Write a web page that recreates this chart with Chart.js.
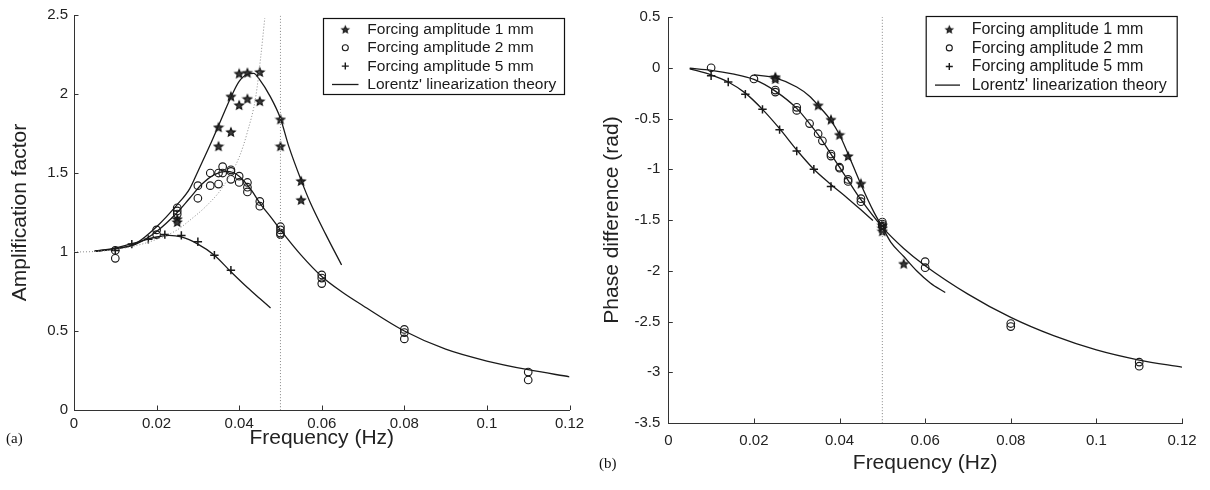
<!DOCTYPE html>
<html><head><meta charset="utf-8">
<script src="https://cdn.jsdelivr.net/npm/chart.js@4/dist/chart.umd.min.js"></script>
<style>
html,body{margin:0;padding:0;background:#fff;}
#wrap{position:relative;width:1210px;height:490px;overflow:hidden;background:#fff;}
canvas{position:absolute;top:0;}
#ca{left:0;} #cb{left:600px;}
.lab{position:absolute;font-family:'Liberation Serif','Times New Roman',serif;font-size:15px;color:#111;line-height:17px;}
</style></head><body>
<div id="wrap">
<canvas id="ca" width="600" height="490"></canvas>
<canvas id="cb" width="610" height="490"></canvas>
<div class="lab" style="left:6px;top:430px">(a)</div>
<div class="lab" style="left:599px;top:455px">(b)</div>
</div>
<script>
// ---------- tick values ----------
const freqTicks = [0, 0.02, 0.04, 0.06, 0.08, 0.1, 0.12];
const ampTicks = [0, 0.5, 1, 1.5, 2, 2.5];
const phaseTicks = [-3.5, -3, -2.5, -2, -1.5, -1, -0.5, 0, 0.5];
const legendLabels = ['Forcing amplitude 1 mm', 'Forcing amplitude 2 mm', 'Forcing amplitude 5 mm', "Lorentz' linearization theory"];

// ---------- (a) amplification: measurements ----------
const ampStarF = [0.025, 0.025, 0.035, 0.035, 0.038, 0.038, 0.040, 0.040, 0.042, 0.042, 0.045, 0.045, 0.050, 0.050, 0.055, 0.055];
const ampStarA = [1.21, 1.19, 1.79, 1.67, 1.985, 1.76, 2.13, 1.93, 2.135, 1.97, 2.14, 1.955, 1.84, 1.67, 1.45, 1.33];
const ampCircF = [0.01, 0.01, 0.02, 0.02, 0.025, 0.025, 0.025, 0.03, 0.03, 0.033, 0.033, 0.035, 0.035, 0.036, 0.036, 0.038, 0.038, 0.038, 0.040, 0.040, 0.042, 0.042, 0.042, 0.045, 0.045, 0.05, 0.05, 0.05, 0.05, 0.06, 0.06, 0.06, 0.08, 0.08, 0.08, 0.11, 0.11];
const ampCircA = [1.01, 0.96, 1.14, 1.11, 1.28, 1.26, 1.24, 1.42, 1.34, 1.50, 1.42, 1.50, 1.43, 1.54, 1.50, 1.52, 1.51, 1.46, 1.48, 1.44, 1.44, 1.41, 1.38, 1.32, 1.29, 1.16, 1.14, 1.12, 1.11, 0.855, 0.835, 0.80, 0.51, 0.49, 0.45, 0.24, 0.19];
const ampPlusF = [0.01, 0.014, 0.018, 0.022, 0.026, 0.030, 0.034, 0.038];
const ampPlusA = [1.01, 1.05, 1.08, 1.11, 1.105, 1.065, 0.98, 0.885];

// ---------- (a) amplification: theory curves ----------
const ampTh1F = [0.005, 0.010, 0.015, 0.020, 0.025, 0.028, 0.030, 0.033, 0.035, 0.038, 0.040, 0.042, 0.0435, 0.045, 0.0474, 0.050, 0.052, 0.055, 0.0571, 0.061, 0.0648];
const ampTh1A = [1.005, 1.02, 1.055, 1.16, 1.30, 1.40, 1.51, 1.68, 1.80, 1.98, 2.08, 2.125, 2.13, 2.09, 1.99, 1.845, 1.67, 1.455, 1.32, 1.11, 0.918];
const ampTh2F = [0.005, 0.010, 0.015, 0.020, 0.025, 0.028, 0.031, 0.034, 0.037, 0.040, 0.043, 0.045, 0.048, 0.050, 0.055, 0.060, 0.065, 0.070, 0.080, 0.090, 0.100, 0.110, 0.120];
const ampTh2A = [1.005, 1.02, 1.05, 1.13, 1.25, 1.34, 1.43, 1.49, 1.51, 1.48, 1.39, 1.31, 1.21, 1.14, 0.98, 0.845, 0.745, 0.66, 0.50, 0.385, 0.31, 0.255, 0.21];
const ampTh5F = [0.005, 0.010, 0.015, 0.020, 0.023, 0.026, 0.030, 0.034, 0.038, 0.042, 0.045, 0.0476];
const ampTh5A = [1.005, 1.025, 1.06, 1.095, 1.105, 1.095, 1.05, 0.98, 0.875, 0.775, 0.705, 0.646];
const ampUndampedF = [0, 0.005, 0.010, 0.015, 0.020, 0.025, 0.028, 0.032, 0.036, 0.040, 0.042, 0.044, 0.0452, 0.0462];
const ampUndampedA = [1.0, 1.003, 1.015, 1.04, 1.08, 1.14, 1.20, 1.29, 1.41, 1.60, 1.76, 1.98, 2.23, 2.48];
const ampResF = [0.05, 0.05];
const ampResA = [0, 2.5];

// ---------- (b) phase: measurements ----------
const phStarF = [0.025, 0.025, 0.035, 0.038, 0.040, 0.042, 0.045, 0.050, 0.050, 0.050, 0.055];
const phStarP = [-0.09, -0.11, -0.37, -0.51, -0.66, -0.87, -1.14, -1.55, -1.58, -1.61, -1.93];
const phCircF = [0.01, 0.02, 0.025, 0.025, 0.03, 0.03, 0.033, 0.035, 0.036, 0.038, 0.038, 0.040, 0.040, 0.042, 0.042, 0.045, 0.045, 0.05, 0.05, 0.05, 0.06, 0.06, 0.08, 0.08, 0.11, 0.11];
const phCircP = [0.0, -0.11, -0.22, -0.24, -0.39, -0.42, -0.55, -0.65, -0.72, -0.85, -0.87, -0.98, -0.99, -1.10, -1.12, -1.29, -1.32, -1.52, -1.54, -1.56, -1.91, -1.97, -2.52, -2.55, -2.90, -2.94];
const phPlusF = [0.01, 0.014, 0.018, 0.022, 0.026, 0.030, 0.034, 0.038, 0.05];
const phPlusP = [-0.08, -0.14, -0.26, -0.41, -0.61, -0.82, -1.0, -1.17, -1.55];

// ---------- (b) phase: theory curves ----------
const phTh1F = [0.020, 0.025, 0.030, 0.033, 0.035, 0.038, 0.040, 0.042, 0.045, 0.048, 0.050, 0.052, 0.055, 0.058, 0.0612, 0.0647];
const phTh1P = [-0.07, -0.10, -0.19, -0.28, -0.37, -0.52, -0.66, -0.85, -1.15, -1.42, -1.57, -1.72, -1.86, -2.0, -2.12, -2.215];
const phTh2F = [0.005, 0.010, 0.015, 0.020, 0.025, 0.030, 0.033, 0.035, 0.038, 0.040, 0.042, 0.045, 0.050, 0.055, 0.060, 0.070, 0.080, 0.090, 0.100, 0.110, 0.120];
const phTh2P = [-0.005, -0.025, -0.06, -0.115, -0.23, -0.40, -0.55, -0.66, -0.85, -0.98, -1.11, -1.30, -1.57, -1.78, -1.95, -2.23, -2.46, -2.64, -2.78, -2.88, -2.95];
const phTh5F = [0.005, 0.010, 0.014, 0.018, 0.022, 0.026, 0.030, 0.034, 0.038, 0.042, 0.045, 0.0478];
const phTh5P = [-0.01, -0.07, -0.14, -0.25, -0.41, -0.60, -0.81, -1.0, -1.15, -1.29, -1.40, -1.505];
const phResF = [0.05, 0.05];
const phResP = [-3.5, 0.5];

// ---------- helpers ----------
const FONT = "'Liberation Sans', Arial, Helvetica, sans-serif";
const INK = '#1a1a1a';
const pairs = (xs, ys) => xs.map((x, i) => ({ x: x, y: ys[i] }));
const fmt = v => String(Math.round(v * 100) / 100);

function makeStar(r) {
  const s = Math.ceil(r * 2 + 3);
  const c = document.createElement('canvas');
  c.width = s; c.height = s;
  const g = c.getContext('2d');
  g.translate(s / 2, s / 2 + 0.5);
  g.beginPath();
  for (let i = 0; i < 10; i++) {
    const rr = i % 2 === 0 ? r : r * 0.45;
    const a = -Math.PI / 2 + i * Math.PI / 5;
    g.lineTo(rr * Math.cos(a), rr * Math.sin(a));
  }
  g.closePath();
  g.fillStyle = '#3a3a3a'; g.fill();
  g.lineWidth = 1.1; g.strokeStyle = '#111'; g.stroke();
  return c;
}
const starImg = makeStar(4.5);
const starSmall = makeStar(3.6);

function markers(xs, ys, kind) {
  const d = { data: pairs(xs, ys), showLine: false, borderColor: INK, backgroundColor: 'rgba(0,0,0,0)' };
  if (kind === 'star') { d.pointStyle = starImg; d.pointRadius = 5; }
  if (kind === 'circle') { d.pointStyle = 'circle'; d.pointRadius = 3.8; d.borderWidth = 1.15; }
  if (kind === 'plus') { d.pointStyle = 'cross'; d.pointRadius = 4.2; d.borderWidth = 1.5; }
  d.pointHoverRadius = d.pointRadius;
  return d;
}
function curve(xs, ys, dotted) {
  return {
    data: pairs(xs, ys), showLine: true, pointRadius: 0, pointHoverRadius: 0,
    borderColor: dotted ? '#8a8a8a' : INK, borderWidth: dotted ? 1 : 1.3,
    borderDash: dotted ? [1, 2] : [], cubicInterpolationMode: 'monotone', fill: false
  };
}

const innerTicks = {
  id: 'innerTicks',
  afterDraw(chart) {
    const { ctx, chartArea: a, scales: { x, y } } = chart;
    ctx.save(); ctx.strokeStyle = '#333'; ctx.lineWidth = 1; ctx.beginPath();
    x.ticks.forEach(t => { const px = Math.round(x.getPixelForValue(t.value)) + 0.5; ctx.moveTo(px, a.bottom); ctx.lineTo(px, a.bottom - 4.5); });
    y.ticks.forEach(t => { const py = Math.round(y.getPixelForValue(t.value)) + 0.5; ctx.moveTo(a.left, py); ctx.lineTo(a.left + 4.5, py); });
    ctx.stroke(); ctx.restore();
  }
};
const boxLegend = {
  id: 'boxLegend',
  afterDraw(chart, args, o) {
    const ctx = chart.ctx; ctx.save();
    ctx.fillStyle = '#fff'; ctx.fillRect(o.x, o.y, o.w, o.h);
    ctx.strokeStyle = '#111'; ctx.lineWidth = 1.2; ctx.strokeRect(o.x + 0.5, o.y + 0.5, o.w, o.h);
    ctx.font = o.size + 'px ' + FONT; ctx.fillStyle = INK; ctx.textBaseline = 'middle'; ctx.textAlign = 'left';
    legendLabels.forEach((t, i) => {
      const y = o.y + o.row0 + i * o.dy;
      ctx.strokeStyle = INK;
      if (i === 0) ctx.drawImage(starSmall, o.symX - starSmall.width / 2, y - starSmall.height / 2);
      if (i === 1) { ctx.lineWidth = 1.1; ctx.beginPath(); ctx.arc(o.symX, y, 3, 0, Math.PI * 2); ctx.stroke(); }
      if (i === 2) { ctx.lineWidth = 1.4; ctx.beginPath(); ctx.moveTo(o.symX - 3.5, y); ctx.lineTo(o.symX + 3.5, y); ctx.moveTo(o.symX, y - 3.5); ctx.lineTo(o.symX, y + 3.5); ctx.stroke(); }
      if (i === 3) { ctx.lineWidth = 1.3; ctx.beginPath(); ctx.moveTo(o.lineX0, y); ctx.lineTo(o.lineX1, y); ctx.stroke(); }
      ctx.fillText(t, o.textX, y + 0.5);
    });
    ctx.restore();
  }
};

function xScale(h, titlePad, tickPad) {
  return {
    type: 'linear', min: 0, max: 0.12,
    afterBuildTicks: s => { s.ticks = freqTicks.map(v => ({ value: v })); },
    afterFit: s => { s.height = h; },
    ticks: { callback: v => fmt(v), padding: tickPad, color: '#222', font: { size: 15, family: FONT }, maxRotation: 0, autoSkip: false },
    grid: { display: false, drawTicks: false },
    border: { display: true, color: '#333', width: 1 },
    title: { display: true, text: 'Frequency (Hz)', color: '#222', font: { size: 21, family: FONT }, padding: { top: 0, bottom: titlePad } }
  };
}
function yScale(min, max, tickVals, w, title, titlePad, tickPad) {
  return {
    type: 'linear', min: min, max: max,
    afterBuildTicks: s => { s.ticks = tickVals.map(v => ({ value: v })); },
    afterFit: s => { s.width = w; },
    ticks: { callback: v => fmt(v), padding: tickPad, color: '#222', font: { size: 15, family: FONT }, autoSkip: false },
    grid: { display: false, drawTicks: false },
    border: { display: true, color: '#333', width: 1 },
    title: { display: true, text: title, color: '#222', font: { size: 21, family: FONT }, padding: { top: titlePad, bottom: 0 } }
  };
}
const common = {
  responsive: false, animation: false, devicePixelRatio: 1,
  plugins: { legend: { display: false }, tooltip: { enabled: false } },
  events: []
};

new Chart(document.getElementById('ca'), {
  type: 'scatter',
  data: { datasets: [
    curve(ampUndampedF, ampUndampedA, true),
    curve(ampResF, ampResA, true),
    curve(ampTh1F, ampTh1A, false),
    curve(ampTh2F, ampTh2A, false),
    curve(ampTh5F, ampTh5A, false),
    markers(ampCircF, ampCircA, 'circle'),
    markers(ampPlusF, ampPlusA, 'plus'),
    markers(ampStarF, ampStarA, 'star')
  ] },
  options: Object.assign({}, common, {
    layout: { padding: { left: 4, top: 12.5, right: 30.5, bottom: 0 } },
    scales: { x: xScale(80, 39.4, 5), y: yScale(0, 2.5, ampTicks, 70, 'Amplification factor', 4, 6) },
    plugins: Object.assign({}, common.plugins, { boxLegend: { x: 323, y: 18, w: 241, h: 76, row0: 11.3, dy: 18.4, symX: 345.3, textX: 367.3, lineX0: 332, lineX1: 358.5, size: 15.5 } })
  }),
  plugins: [innerTicks, boxLegend]
});

new Chart(document.getElementById('cb'), {
  type: 'scatter',
  data: { datasets: [
    curve(phResF, phResP, true),
    curve(phTh1F, phTh1P, false),
    curve(phTh2F, phTh2P, false),
    curve(phTh5F, phTh5P, false),
    markers(phCircF, phCircP, 'circle'),
    markers(phPlusF, phPlusP, 'plus'),
    markers(phStarF, phStarP, 'star')
  ] },
  options: Object.assign({}, common, {
    layout: { padding: { left: 0, top: 12.5, right: 28, bottom: 0 } },
    scales: { x: xScale(67, 14.4, 9), y: yScale(-3.5, 0.5, phaseTicks, 68.3, 'Phase difference (rad)', 0, 8) },
    plugins: Object.assign({}, common.plugins, { boxLegend: { x: 325.7, y: 16, w: 251, h: 80, row0: 13.3, dy: 18.6, symX: 349.3, textX: 371.7, lineX0: 335, lineX1: 360, size: 16 } })
  }),
  plugins: [innerTicks, boxLegend]
});
</script>
</body></html>
